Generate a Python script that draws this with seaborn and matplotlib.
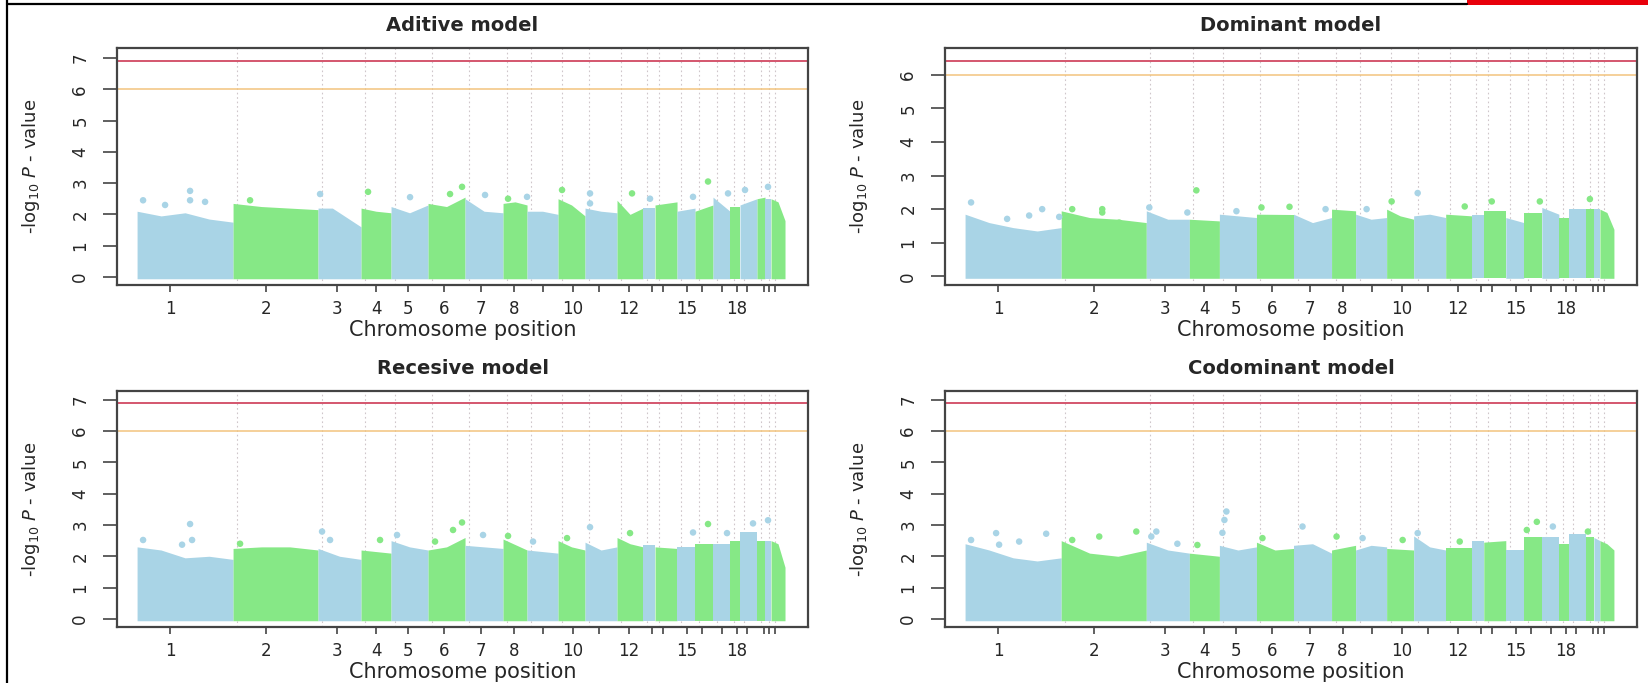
import numpy as np
import pandas as pd
import matplotlib.pyplot as plt
import seaborn as sns

# chromosome layout on the x axis (cumulative SNP index, arbitrary units)
chrom_width = [96, 85, 43, 30, 37, 37, 38, 24, 31, 27, 32, 26, 12, 22, 18, 18, 17, 10, 17, 8, 6, 14]
tick_pos = [33, 129, 200, 239, 271, 307, 344, 377, 406, 436, 462, 492, 515, 526, 550, 565, 585, 600, 610, 627, 632, 638]
tick_labels = ["1", "2", "3", "4", "5", "6", "7", "8", "", "10", "", "12", "", "", "15", "", "", "18", "", "", "", ""]

titles = ["Aditive model", "Dominant model", "Recesive model", "Codominant model"]
genomewide_line = [6.9, 6.4, 6.9, 6.9]
suggestive_line = [6.0, 6.0, 6.0, 6.0]
y_max = [7.32, 6.80, 7.28, 7.28]
y_ticks = [list(range(8)), list(range(7)), list(range(8)), list(range(8))]

# upper edge of the dense SNP cloud, read at a few spots along each chromosome
additive_top = [[2.1, 1.95, 2.05, 1.85, 1.75], [2.35, 2.25, 2.2, 2.15], [2.2, 2.2, 1.9, 1.6],
                [2.2, 2.1, 2.05], [2.25, 2.05, 2.3], [2.35, 2.25, 2.55], [2.5, 2.1, 2.05],
                [2.35, 2.4, 2.3], [2.1, 2.1, 2.0], [2.5, 2.3, 1.95], [2.2, 2.1, 2.05],
                [2.45, 2.0, 2.2], [2.2, 2.2], [2.3, 2.4], [2.1, 2.2], [2.1, 2.3], [2.55, 2.1],
                [2.25, 2.25], [2.3, 2.5], [2.5, 2.55], [2.5, 2.5], [2.5, 2.4, 1.8]]
additive_peak_x = [6, 28, 53, 53, 68, 113, 183, 231, 273, 313, 325, 348, 371, 390, 425, 453, 453, 495, 513, 556, 571, 591, 608, 631]
additive_peak_y = [2.45, 2.3, 2.75, 2.45, 2.4, 2.45, 2.65, 2.72, 2.55, 2.65, 2.88, 2.62, 2.5, 2.56, 2.78, 2.67, 2.35, 2.67, 2.5, 2.56, 3.05, 2.67, 2.78, 2.88]

dominant_top = [[1.85, 1.6, 1.45, 1.35, 1.45], [1.95, 1.75, 1.7, 1.6], [1.95, 1.7, 1.7],
                [1.7, 1.65], [1.85, 1.8, 1.75], [1.85, 1.84], [1.85, 1.6, 1.75],
                [2.0, 1.95], [1.85, 1.7, 1.75], [2.0, 1.8, 1.7], [1.8, 1.85, 1.75],
                [1.85, 1.8], [1.84, 1.84], [1.95, 1.95], [1.75, 1.6], [1.89, 1.89], [2.05, 1.85],
                [1.75, 1.75], [2.0, 2.0], [2.0, 2.0], [2.0, 2.0], [2.0, 1.9, 1.4]]
dominant_peak_x = [6, 42, 64, 77, 94, 107, 137, 137, 154, 184, 231, 222, 271, 296, 324, 360, 401, 426, 452, 499, 526, 574, 624]
dominant_peak_y = [2.2, 1.71, 1.81, 2.0, 1.77, 2.0, 2.0, 1.9, 1.6, 2.05, 2.56, 1.9, 1.94, 2.05, 2.07, 2.0, 2.0, 2.23, 2.48, 2.08, 2.23, 2.23, 2.3]

recessive_top = [[2.3, 2.2, 1.95, 2.0, 1.9], [2.25, 2.3, 2.3, 2.2], [2.25, 2.0, 1.9],
                 [2.2, 2.1], [2.5, 2.3, 2.2], [2.2, 2.3, 2.6], [2.35, 2.3, 2.25],
                 [2.55, 2.2], [2.2, 2.15, 2.1], [2.5, 2.3, 2.2], [2.45, 2.2, 2.3],
                 [2.6, 2.4, 2.3], [2.35, 2.35], [2.3, 2.25], [2.3, 2.3], [2.4, 2.4], [2.4, 2.4],
                 [2.5, 2.5], [2.78, 2.78], [2.5, 2.5], [2.5, 2.5], [2.5, 2.4, 1.65]]
recessive_peak_x = [6, 53, 55, 45, 103, 185, 193, 243, 260, 325, 316, 298, 346, 371, 396, 430, 453, 493, 556, 571, 590, 616, 631]
recessive_peak_y = [2.52, 3.03, 2.52, 2.37, 2.4, 2.79, 2.52, 2.52, 2.68, 3.08, 2.84, 2.47, 2.68, 2.65, 2.47, 2.58, 2.93, 2.74, 2.76, 3.03, 2.74, 3.05, 3.15]

codominant_top = [[2.4, 2.2, 1.95, 1.85, 1.95], [2.5, 2.1, 2.0, 2.2], [2.45, 2.2, 2.1],
                  [2.1, 2.0], [2.35, 2.2, 2.3], [2.45, 2.2, 2.25], [2.35, 2.4, 2.1],
                  [2.2, 2.35], [2.2, 2.35, 2.3], [2.25, 2.2], [2.65, 2.3, 2.2],
                  [2.25, 2.25], [2.5, 2.5], [2.45, 2.5], [2.2, 2.2], [2.6, 2.6], [2.6, 2.6],
                  [2.4, 2.4], [2.7, 2.7], [2.6, 2.6], [2.6, 2.5], [2.5, 2.4, 2.2]]
codominant_peak_x = [6, 31, 54, 81, 34, 107, 134, 171, 186, 191, 212, 232, 261, 259, 257, 297, 337, 371, 397, 437, 452, 494, 561, 571, 587, 622]
codominant_peak_y = [2.52, 2.74, 2.47, 2.72, 2.37, 2.52, 2.63, 2.79, 2.63, 2.79, 2.4, 2.36, 3.43, 3.16, 2.75, 2.58, 2.95, 2.63, 2.58, 2.52, 2.74, 2.47, 2.84, 3.1, 2.95, 2.79]

panel_tops = [additive_top, dominant_top, recessive_top, codominant_top]
panel_peak_x = [additive_peak_x, dominant_peak_x, recessive_peak_x, codominant_peak_x]
panel_peak_y = [additive_peak_y, dominant_peak_y, recessive_peak_y, codominant_peak_y]

BLUE = "#a9d4e6"
GREEN = "#86e886"
FRAME = "#444444"

sns.set_style("white")
plt.rcParams["font.family"] = ["DejaVu Sans"]


def draw_panel(ax, title, tops, peak_x, peak_y, red_y, orange_y, ytop, yticks):
    ends = np.cumsum(chrom_width)
    starts = ends - np.array(chrom_width)

    # chromosome separators
    for s in starts[1:]:
        ax.axvline(s + 4, color="#cfc6ca", ls=(0, (1.5, 2.5)), lw=0.8, zorder=1)
    ax.axhline(red_y, color="#d4566e", lw=1.4, zorder=1.5)
    ax.axhline(orange_y, color="#f2c47e", lw=1.1, zorder=1.5)

    # dense SNP cloud per chromosome
    for i, (s, e, top) in enumerate(zip(starts, ends, tops)):
        col = BLUE if i % 2 == 0 else GREEN
        xs = np.linspace(s, e, len(top))
        ax.fill_between(xs, -0.06, top, color=col, lw=0, zorder=2)

    # isolated SNPs sticking out above the cloud
    df = pd.DataFrame({"pos": peak_x, "logp": peak_y})
    df["chrom"] = np.searchsorted(ends, df["pos"], side="right") + 1
    df["parity"] = np.where(df["chrom"] % 2 == 1, "odd", "even")
    sns.scatterplot(data=df, x="pos", y="logp", hue="parity",
                    palette={"odd": BLUE, "even": GREEN}, s=22, linewidth=0,
                    legend=False, ax=ax, zorder=3)

    ax.set_xlim(-20, 671)
    ax.set_ylim(-0.26, ytop)
    ax.set_xticks(tick_pos)
    ax.set_xticklabels(tick_labels)
    ax.set_yticks(yticks)
    ax.set_yticklabels([str(t) for t in yticks])
    ax.tick_params(axis="y", length=10, width=1.2, pad=10, labelsize=12,
                   labelrotation=90, color=FRAME, left=True)
    ax.tick_params(axis="x", length=5, width=1.2, pad=6, labelsize=12,
                   color=FRAME, bottom=True)
    for lab in ax.get_yticklabels():
        lab.set_va("center")
    for sp in ax.spines.values():
        sp.set_color(FRAME)
        sp.set_linewidth(1.6)

    ax.set_title(title, fontweight="bold", fontsize=14, pad=12)
    ax.set_xlabel("Chromosome position", fontsize=15)
    ax.xaxis.set_label_coords(0.5, -0.19)
    ax.xaxis.label.set_va("center")
    ax.set_ylabel(r"-log$_{10}$ $\it{P}$ - value", fontsize=13)
    ax.yaxis.set_label_coords(-0.125, 0.5)
    ax.yaxis.label.set_va("center")


fig = plt.figure(figsize=(16.49, 6.83), dpi=100)
positions = [[0.0710, 0.5827, 0.4190, 0.3470], [0.5731, 0.5827, 0.4196, 0.3470],
             [0.0710, 0.0820, 0.4190, 0.3455], [0.5731, 0.0820, 0.4196, 0.3455]]

for k in range(4):
    ax = fig.add_axes(positions[k])
    draw_panel(ax, titles[k], panel_tops[k], panel_peak_x[k], panel_peak_y[k],
               genomewide_line[k], suggestive_line[k], y_max[k], y_ticks[k])

# frame of the screenshot
fig.add_artist(plt.Line2D([7.5 / 1649, 7.5 / 1649], [0, 1], color="black", lw=1.6))
fig.add_artist(plt.Line2D([7 / 1649, 1467 / 1649], [1 - 4 / 683, 1 - 4 / 683], color="black", lw=1.6))
fig.add_artist(plt.Rectangle((1467 / 1649, 1 - 5 / 683), 182 / 1649, 5 / 683,
                             color="#e8000b", transform=fig.transFigure, lw=0))

fig.savefig("out.png", dpi=100)
